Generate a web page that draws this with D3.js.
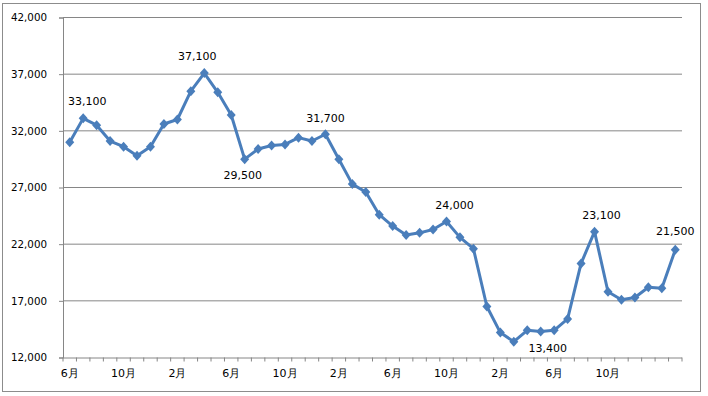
<!DOCTYPE html>
<html>
<head>
<meta charset="utf-8">
<script src="https://cdn.jsdelivr.net/npm/d3@7"></script>
<style>
html,body{margin:0;padding:0;background:#fff;}
svg{display:block;}
text{font-family:"DejaVu Sans",Verdana,sans-serif;fill:#000;}
</style>
</head>
<body>
<svg id="chart" width="708" height="396"></svg>
<script>
// ---- data ----
const months = ["6月","7月","8月","9月","10月","11月","12月","1月","2月","3月","4月","5月",
  "6月","7月","8月","9月","10月","11月","12月","1月","2月","3月","4月","5月",
  "6月","7月","8月","9月","10月","11月","12月","1月","2月","3月","4月","5月",
  "6月","7月","8月","9月","10月","11月","12月","1月","2月","3月"];
const values = [31000,33100,32500,31100,30600,29800,30600,32600,33000,35500,37100,35400,
  33400,29500,30400,30700,30800,31400,31100,31700,29500,27300,26600,24600,
  23600,22800,23000,23300,24000,22600,21600,16500,14200,13400,14400,14300,
  14400,15400,20300,23100,17800,17100,17300,18200,18100,21500];
const xTickLabels = ["6月","10月","2月","6月","10月","2月","6月","10月","2月","6月","10月"];
const xTickIndex = [0,4,8,12,16,20,24,28,32,36,40];
const yTicks = [12000,17000,22000,27000,32000,37000,42000];
const labeledIndex = [1,10,13,19,28,33,39,45];

// ---- layout ----
const svg = d3.select("#chart");
const L = 63, R = 682, T = 17.5, B = 357.5;
const x = d3.scaleBand().domain(d3.range(values.length)).range([L, R]).padding(0);
const y = d3.scaleLinear().domain([12000, 42000]).range([B, T]);
const cx = i => x(i) + x.bandwidth() / 2;

// outer border
svg.append("rect").attr("x", 2.5).attr("y", 3.5).attr("width", 698).attr("height", 388)
  .attr("fill", "#fff").attr("stroke", "#8c8c8c").attr("stroke-width", 1);

// gridlines
svg.append("g").selectAll("line").data(yTicks.filter(v => v > 12000)).join("line")
  .attr("x1", L).attr("x2", R).attr("y1", d => y(d)).attr("y2", d => y(d))
  .attr("stroke", "#868686").attr("stroke-width", 1);

// y axis
const yAxis = svg.append("g").attr("transform", `translate(${L},0)`)
  .call(d3.axisLeft(y).tickValues(yTicks).tickSize(4).tickPadding(12).tickFormat(d3.format(",")));
yAxis.select(".domain").attr("stroke", "#868686");
yAxis.selectAll(".tick line").attr("stroke", "#868686");
yAxis.selectAll("text").attr("font-size", "10.3px").attr("font-family", "DejaVu Sans").attr("fill", "#000");

// x axis
const xAxis = svg.append("g").attr("transform", `translate(0,${B})`)
  .call(d3.axisBottom(x).tickValues(xTickIndex).tickSize(0).tickPadding(12)
    .tickFormat(d => xTickLabels[xTickIndex.indexOf(d)]));
xAxis.select(".domain").attr("stroke", "#868686").attr("d", `M${L},0.5H${R}`);
xAxis.selectAll("text").attr("font-size", "11px").attr("font-family", "DejaVu Sans").attr("fill", "#000");
// category boundary ticks
svg.append("g").selectAll("line").data(d3.range(values.length + 1)).join("line")
  .attr("x1", i => (i < values.length ? x(i) : R)).attr("x2", i => (i < values.length ? x(i) : R))
  .attr("y1", B).attr("y2", B + 4).attr("stroke", "#868686");

// line
const color = "#4a7ebb";
svg.append("path").datum(values)
  .attr("fill", "none").attr("stroke", color).attr("stroke-width", 3).attr("stroke-linejoin", "round")
  .attr("d", d3.line().x((d, i) => cx(i)).y(d => y(d)));

// markers
svg.append("g").selectAll("path").data(values).join("path")
  .attr("transform", (d, i) => `translate(${cx(i)},${y(d)})`)
  .attr("d", "M0,-5L4.5,0L0,5L-4.5,0Z").attr("fill", color);

// data labels
const labelPlace = {1:[4,-17],10:[-7,-17],13:[-2,16],19:[0,-16],28:[8,-16],33:[34,7],39:[7,-16],45:[0,-18]};
svg.append("g").selectAll("text").data(labeledIndex).join("text")
  .attr("x", i => cx(i) + labelPlace[i][0])
  .attr("y", i => y(values[i]) + labelPlace[i][1])
  .attr("text-anchor", "middle").attr("dominant-baseline", "central")
  .attr("font-size", "11px")
  .text(i => d3.format(",")(values[i]));
</script>
</body>
</html>
